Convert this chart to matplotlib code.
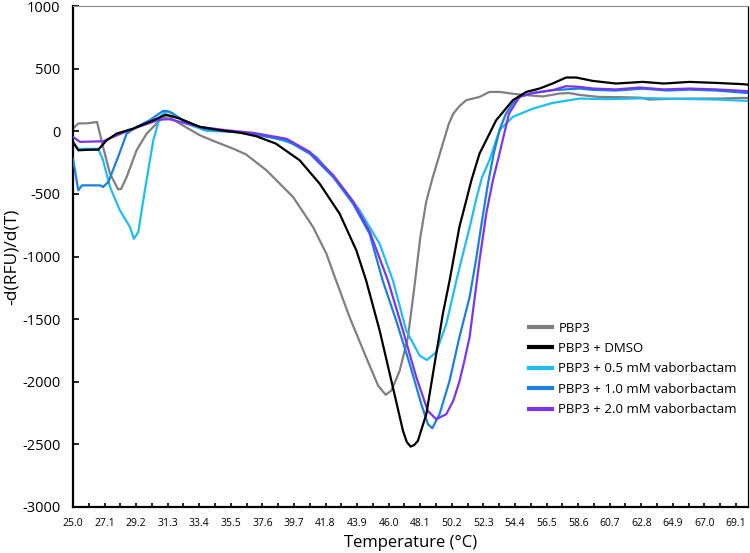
import matplotlib
matplotlib.use("Agg")
import matplotlib.pyplot as plt
from matplotlib.ticker import FixedLocator

plt.rcParams['font.family'] = ['Open Sans', 'DejaVu Sans']

# ---------------- data ----------------
labels = ["PBP3", "PBP3 + DMSO", "PBP3 + 0.5 mM vaborbactam",
          "PBP3 + 1.0 mM vaborbactam", "PBP3 + 2.0 mM vaborbactam"]

t_pbp3 = [25.0, 25.35, 26.0, 26.6, 27.0, 27.46, 28.0, 28.2, 28.57, 29.23, 29.9, 30.78,
          31.33, 32.1, 33.44, 34.5, 35.65, 36.5, 37.87, 39.64, 40.97, 41.86, 42.4, 43.4,
          44.5, 45.3, 45.8, 46.17, 46.73, 47.28, 47.7, 48.1, 48.5, 48.9, 49.3, 49.6, 50.0,
          50.3, 50.7, 51.16, 52.04, 52.7, 53.37, 54.48, 55.5, 56.25, 57.36, 58.0, 58.7,
          60.0, 61.5, 62.8, 63.3, 64.5, 66.0, 67.8, 69.6, 69.9]
v_pbp3 = [21, 62, 64, 74, -125, -338, -464, -460, -365, -152, -19, 88,
          120, 61, -32, -85, -139, -184, -312, -525, -765, -979, -1160, -1485,
          -1805, -2032, -2104, -2072, -1912, -1645, -1250, -850, -560, -380, -220, -99, 60,
          141, 200, 248, 274, 314, 314, 296, 285, 278, 301, 305, 290,
          274, 272, 268, 253, 258, 261, 261, 266, 265]

t_dmso = [25.0, 25.35, 26.0, 26.68, 27.24, 27.9, 29.0, 30.1, 31.2, 32.1, 33.0, 33.44,
          34.77, 36.1, 37.2, 38.5, 40.08, 41.41, 42.74, 43.85, 44.5, 45.4, 46.28, 46.95,
          47.2, 47.46, 47.7, 47.94, 48.5, 49.05, 49.6, 50.05, 50.7, 51.16, 51.5, 52.04,
          53.15, 54.26, 55.15, 56.03, 56.9, 57.8, 58.47, 59.57, 61.12, 62.9, 64.3, 66.0,
          67.77, 69.54, 69.9]
v_dmso = [-85, -152, -148, -147, -72, -19, 21, 75, 133, 101, 56, 35,
          8, -11, -40, -99, -232, -419, -659, -952, -1192, -1592, -2045, -2392,
          -2480, -2518, -2505, -2472, -2259, -1859, -1459, -1192, -765, -552, -392, -179,
          88, 248, 314, 341, 381, 429, 429, 402, 381, 394, 381, 394,
          386, 376, 372]

t_v05 = [25.0, 25.35, 26.68, 27.0, 27.46, 28.12, 28.79, 29.05, 29.34, 29.78, 30.34, 30.78,
         31.22, 31.66, 32.55, 33.88, 35.65, 37.0, 38.3, 39.64, 41.19, 42.74, 44.07, 45.4,
         46.28, 47.17, 48.06, 48.54, 49.16, 49.83, 50.5, 50.94, 51.4, 51.8, 52.2, 52.7,
         53.37, 54.26, 55.6, 56.9, 58.7, 60.5, 63.3, 65.5, 67.8, 69.9]
v_v05 = [-90, -140, -140, -232, -445, -632, -765, -859, -805, -472, -72, 115,
         163, 141, 61, 3, -5, -19, -50, -99, -205, -419, -632, -899,
         -1192, -1592, -1792, -1826, -1765, -1539, -1192, -979, -760, -552, -370, -232,
         8, 115, 181, 226, 261, 256, 264, 258, 253, 242]

t_v10 = [25.0, 25.35, 25.6, 26.8, 27.0, 27.35, 28.0, 28.57, 29.23, 30.1, 31.0, 31.44,
         32.3, 33.66, 35.65, 36.76, 39.2, 40.75, 42.3, 43.63, 44.73, 45.6, 46.5, 47.4,
         48.17, 48.61, 48.9, 49.38, 50.05, 50.7, 51.38, 51.8, 52.2, 52.6, 53.0, 53.4,
         53.8, 54.3, 54.8, 55.6, 56.9, 58.7, 59.6, 61.1, 62.9, 64.5, 66.0, 67.8, 69.9]
v_v10 = [-219, -472, -432, -432, -445, -405, -205, -19, 35, 88, 163, 155,
         88, 21, -5, -19, -72, -179, -365, -579, -819, -1192, -1512, -1859,
         -2179, -2339, -2371, -2259, -1992, -1645, -1325, -1032, -720, -420, -170, 20,
         140, 230, 280, 305, 328, 341, 330, 325, 340, 325, 332, 325, 305]

t_v20 = [25.0, 25.47, 27.0, 27.68, 28.57, 29.67, 30.78, 31.44, 32.1, 33.44, 35.2, 37.0,
         39.2, 40.75, 42.3, 43.63, 44.73, 45.95, 46.95, 47.84, 48.6, 49.16, 49.83, 50.3,
         50.7, 51.0, 51.38, 52.04, 52.5, 52.93, 53.37, 54.0, 54.7, 55.6, 56.9, 57.8,
         58.7, 59.6, 61.1, 62.7, 64.3, 66.0, 67.8, 69.6, 69.9]
v_v20 = [-45, -85, -80, -45, 0, 48, 93, 96, 75, 35, 8, -13,
         -60, -165, -350, -560, -800, -1192, -1592, -1965, -2232, -2299, -2259, -2150,
         -2000, -1850, -1645, -1032, -650, -392, -179, 141, 274, 306, 328, 360,
         354, 341, 334, 349, 334, 341, 334, 322, 320]

xtick_labels = ["25.0", "27.1", "29.2", "31.3", "33.4", "35.5", "37.6", "39.7", "41.8",
                "43.9", "46.0", "48.1", "50.2", "52.3", "54.4", "56.5", "58.6", "60.7",
                "62.8", "64.9", "67.0", "69.1"]
yticks = [-3000, -2500, -2000, -1500, -1000, -500, 0, 500, 1000]

colors = ["#808080", "#000000", "#1CBEF4", "#1A80E0", "#7A35F0"]

# ---------------- figure ----------------
fig = plt.figure(figsize=(7.5, 5.53), dpi=100)
ax = fig.add_axes([73/750, 1-507/553, (748-73)/750, (507-6)/553])

series = [(t_pbp3, v_pbp3), (t_dmso, v_dmso), (t_v05, v_v05), (t_v10, v_v10), (t_v20, v_v20)]
zorders = [2, 6, 3, 4, 5]
for (t, v), lab, c, z in zip(series, labels, colors, zorders):
    ax.plot(t, v, color=c, lw=1.6, label=lab, zorder=z, solid_joinstyle='round')

ax.set_xlim(25.0, 69.9)
ax.set_ylim(-3000, 1000)

xt = [float(s) for s in xtick_labels]
ax.xaxis.set_major_locator(FixedLocator(xt))
ax.set_xticklabels(xtick_labels, fontsize=7.5)
ax.xaxis.set_minor_locator(FixedLocator([x + 1.05 for x in xt]))
ax.set_yticks(yticks)
ax.set_yticklabels([str(y) for y in yticks], fontsize=10.5)

ax.tick_params(axis='x', which='both', direction='in', length=3, width=1.2, pad=8)
ax.tick_params(axis='y', which='both', direction='in', length=4, width=1.2, pad=9)

for s in ['left', 'bottom']:
    ax.spines[s].set_linewidth(1.6)
    ax.spines[s].set_color('black')
ax.spines['right'].set_linewidth(0.9)
ax.spines['right'].set_color('black')
ax.spines['top'].set_linewidth(0.8)
ax.spines['top'].set_color('#8a8a8a')

ax.set_xlabel("Temperature (°C)", fontsize=12, labelpad=4)
ax.set_ylabel("-d(RFU)/d(T)", fontsize=12.5, labelpad=2)

leg = ax.legend(loc='upper left', bbox_to_anchor=(522/750, 1-315/553),
                bbox_transform=fig.transFigure, frameon=False, fontsize=9.5,
                handlelength=1.8, handletextpad=0.45, labelspacing=0.56, borderpad=0)
for h in leg.get_lines():
    h.set_linewidth(3)

fig.savefig("out.png", dpi=100)
